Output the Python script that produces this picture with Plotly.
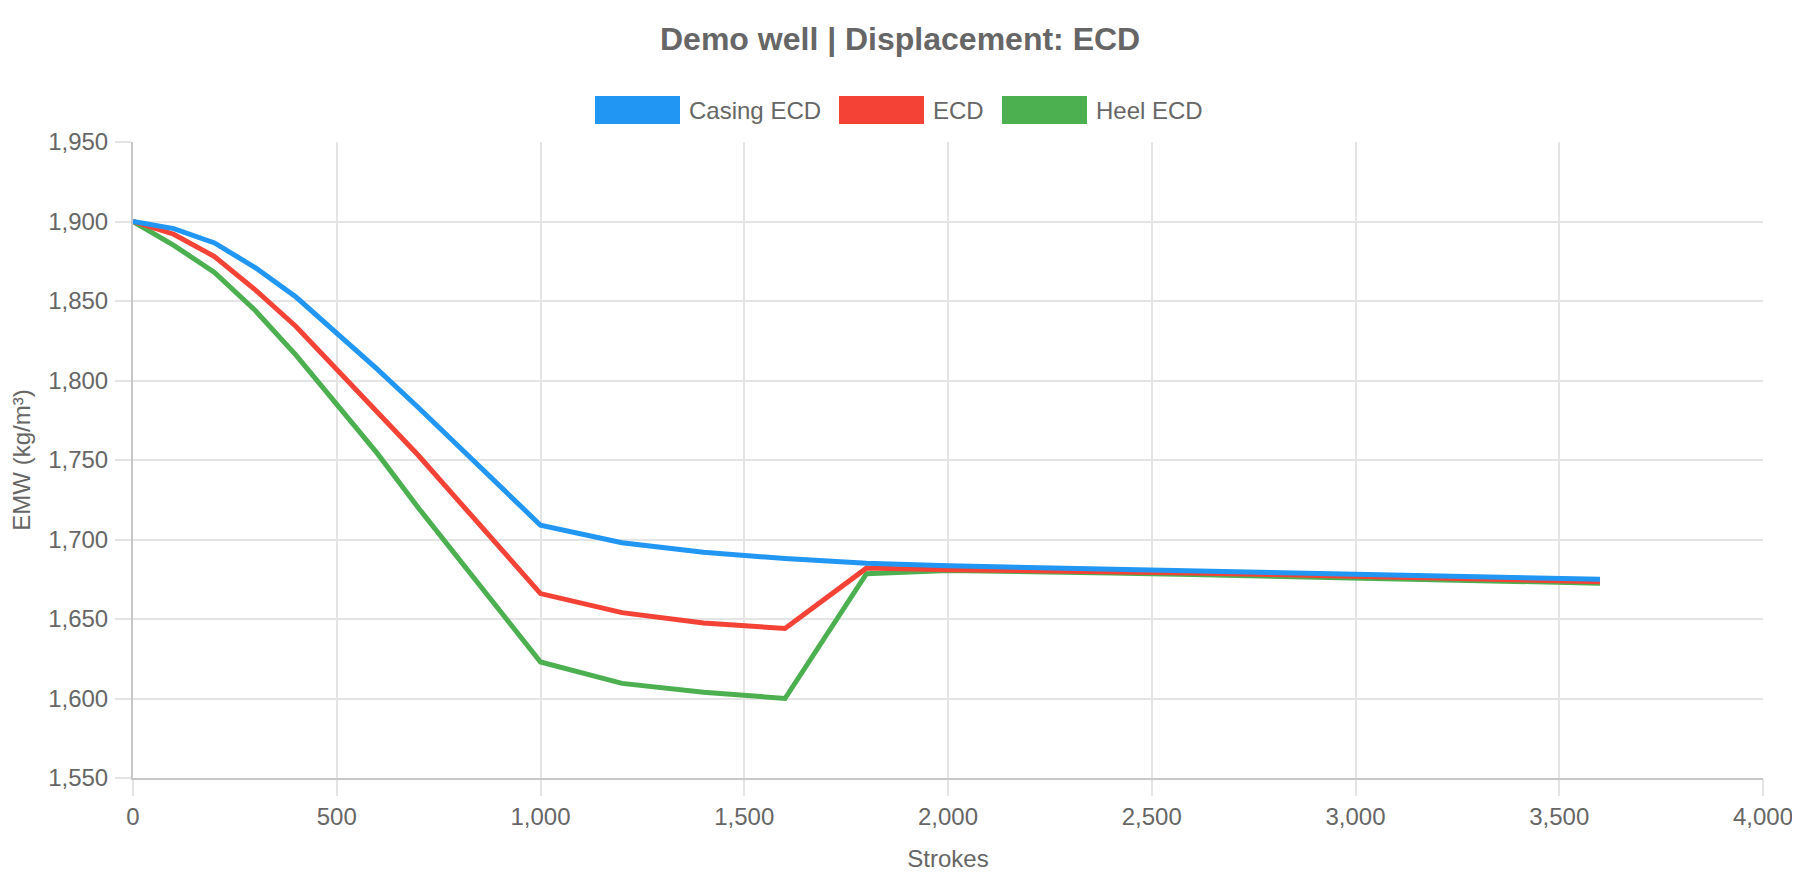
import plotly.graph_objects as go

# ---- data ----
strokes = [0, 100, 200, 300, 400, 500, 600, 700, 800, 900, 1000, 1200, 1400, 1600,
           1800, 2000, 2200, 2400, 2600, 2800, 3000, 3200, 3400, 3600]
casing_ecd = [1900, 1895.5, 1886.5, 1871, 1852.5, 1830, 1807, 1783, 1758, 1734, 1709,
              1698, 1692, 1688, 1685, 1683.5, 1682.5, 1681.5, 1680.5, 1679.5, 1678.5,
              1677, 1676, 1675]
ecd = [1900, 1892, 1878, 1857, 1834, 1807, 1781, 1753, 1724, 1695, 1666,
       1654, 1647.5, 1644, 1682, 1681, 1680.5, 1679.5, 1679, 1678, 1677,
       1676, 1675, 1673.5]
heel_ecd = [1900, 1885, 1868, 1844, 1816, 1785, 1754, 1720, 1688, 1655, 1623,
            1609.5, 1604, 1600, 1678.5, 1680.5, 1680, 1679, 1678, 1677, 1676,
            1675, 1674, 1672.5]
series_names = ["Casing ECD", "ECD", "Heel ECD"]
series_values = [casing_ecd, ecd, heel_ecd]
series_colors = ["#2196F3", "#F44336", "#4CAF50"]

title_text = "Demo well | Displacement: ECD"
x_title = "Strokes"
y_title = "EMW (kg/m³)"

# ---- layout constants (page pixels; page body has an 8px margin) ----
OFF = 8
W, H = 1800 - OFF, 880 - OFF
L, R, T, B = 133 - OFF, 37, 142 - OFF, 102
PW, PH = W - L - R, H - T - B
FONT = "Liberation Sans, Arial, sans-serif"
TXT = "#666666"

def px_x(p):
    return (p - OFF - L) / PW

def px_y(p):
    return (H - B - (p - OFF)) / PH

fig = go.Figure()
# draw in reverse so first dataset is on top
for name, vals, col in reversed(list(zip(series_names, series_values, series_colors))):
    fig.add_trace(go.Scatter(x=strokes, y=vals, mode="lines", name=name,
                             line=dict(color=col, width=5), showlegend=False))

# custom legend (box + label) to mimic large legend swatches
legend_items = [(595, 687), (839, 931), (1002, 1094)]
shapes = []
annotations = []
for (bx, tx), name, col in zip(legend_items, series_names, series_colors):
    shapes.append(dict(type="rect", xref="paper", yref="paper",
                       x0=px_x(bx), x1=px_x(bx + 85), y0=px_y(124), y1=px_y(96),
                       fillcolor=col, line=dict(width=0)))
    annotations.append(dict(text=name, xref="paper", yref="paper",
                            x=px_x(tx), y=px_y(110), xanchor="left", yanchor="middle",
                            showarrow=False, font=dict(family=FONT, size=24, color=TXT)))

annotations.append(dict(text="<b>" + title_text + "</b>", xref="paper", yref="paper",
                        x=px_x(900), y=px_y(39), xanchor="center", yanchor="middle",
                        showarrow=False, font=dict(family=FONT, size=32, color=TXT)))

fig.update_layout(
    width=W, height=H,
    margin=dict(l=L, r=R, t=T, b=B, autoexpand=False),
    paper_bgcolor="white", plot_bgcolor="white",
    font=dict(family=FONT, size=24, color=TXT),
    shapes=shapes, annotations=annotations,
    showlegend=False,
)
fig.update_xaxes(
    range=[0, 4000], dtick=500, tickformat=",d",
    showgrid=True, gridcolor="#e4e4e4", gridwidth=2,
    showline=True, linecolor="#c8c8c8", linewidth=2,
    ticks="outside", ticklen=16, tickcolor="#e4e4e4", tickwidth=2,
    zeroline=False, automargin=False,
    tickfont=dict(family=FONT, size=24, color=TXT),
    title=dict(text=x_title, font=dict(family=FONT, size=24, color=TXT), standoff=21),
)
fig.update_yaxes(
    range=[1550, 1950], dtick=50, tickformat=",d",
    showgrid=True, gridcolor="#e4e4e4", gridwidth=2,
    showline=True, linecolor="#c8c8c8", linewidth=2,
    ticks="outside", ticklen=16, tickcolor="#e4e4e4", tickwidth=2,
    ticklabelstandoff=2,
    zeroline=False, automargin=False,
    tickfont=dict(family=FONT, size=24, color=TXT),
    title=dict(text=y_title, font=dict(family=FONT, size=24, color=TXT), standoff=12),
)

fig.write_html("out.html")
